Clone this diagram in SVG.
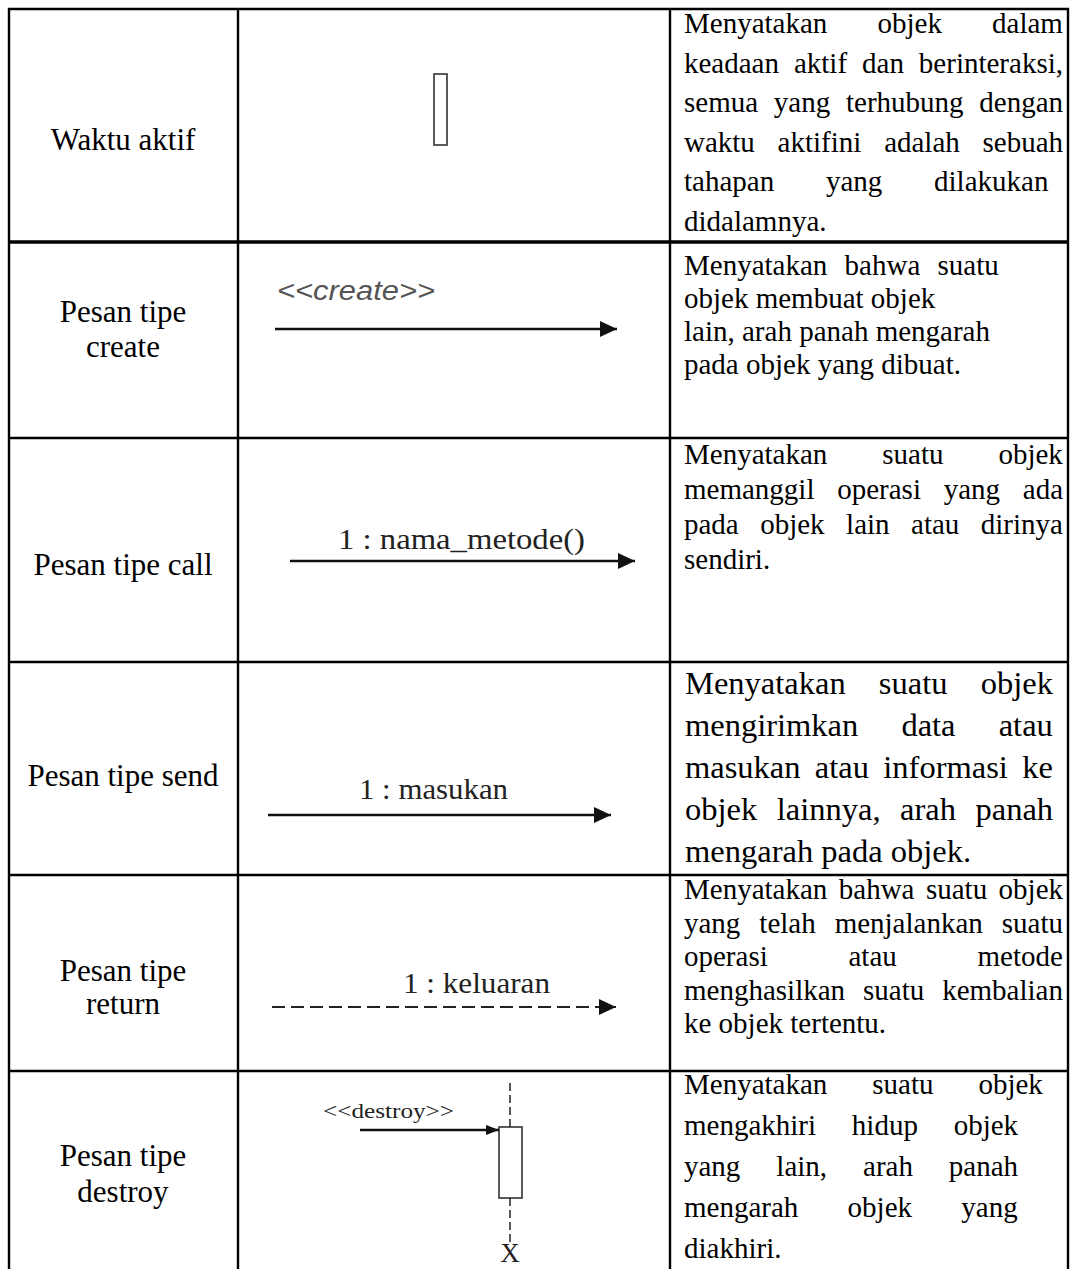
<svg xmlns="http://www.w3.org/2000/svg" width="1073" height="1269" viewBox="0 0 1073 1269">
<defs>
<style>
.grid{stroke:#000;stroke-width:2.4;fill:none}
.lbl{font-family:"Liberation Serif","Times New Roman",serif;font-size:31px;fill:#000;text-anchor:middle}
.desc{font-family:"Liberation Serif","Times New Roman",serif;font-size:29px;fill:#000}
.big{font-size:32.5px}
.note{font-family:"Liberation Serif","Times New Roman",serif;font-size:29px;fill:#222}
.stereo{font-family:"Liberation Sans",Arial,sans-serif;font-style:italic;font-size:27px;fill:#555}
.msg{stroke:#111;stroke-width:2.5;fill:none}
.ret{stroke:#222;stroke-width:2;fill:none;stroke-dasharray:13 6}
.life{stroke:#222;stroke-width:1.5;fill:none;stroke-dasharray:8 4}
.box{stroke:#333;stroke-width:1.6;fill:#fff}
</style>
<marker id="ah" viewBox="0 0 17 16" refX="17" refY="8" markerWidth="17" markerHeight="16" markerUnits="userSpaceOnUse" orient="auto"><path d="M0,0 L17,8 L0,16 Z" fill="#111"/></marker>
<marker id="ahs" viewBox="0 0 13 10" refX="13" refY="5" markerWidth="13" markerHeight="10" markerUnits="userSpaceOnUse" orient="auto"><path d="M0,0 L13,5 L0,10 Z" fill="#111"/></marker>
</defs>
<rect width="1073" height="1269" fill="#fff"/>

<g id="table">
<path class="grid" d="M9,1269 V9 H1068 V1269 M238,9 V1269 M670,9 V1269 M9,438 H1068 M9,662 H1068 M9,875 H1068 M9,1071 H1068"/>
<path d="M9,242 H1068" stroke="#000" stroke-width="3.4"/>
</g>

<g id="row-waktu-aktif">
<text class="lbl" x="123" y="150">Waktu aktif</text>
<rect class="box" x="434" y="74" width="13" height="71"/>
<text class="desc" x="684" y="33" style="word-spacing:42.9px">Menyatakan objek dalam</text>
<text class="desc" x="684" y="72.5" style="word-spacing:7.7px">keadaan aktif dan berinteraksi,</text>
<text class="desc" x="684" y="112" style="word-spacing:8.5px">semua yang terhubung dengan</text>
<text class="desc" x="684" y="151.5" style="word-spacing:15.5px">waktu aktifini adalah sebuah</text>
<text class="desc" x="684" y="191" style="word-spacing:44.5px">tahapan yang dilakukan</text>
<text class="desc" x="684" y="230.5">didalamnya.</text>
</g>

<g id="row-create">
<text class="lbl" x="123" y="322">Pesan tipe</text>
<text class="lbl" x="123" y="357">create</text>
<text class="stereo" x="277" y="300" textLength="158" lengthAdjust="spacingAndGlyphs">&lt;&lt;create&gt;&gt;</text>
<text class="desc" x="684" y="275" style="word-spacing:10px">Menyatakan bahwa suatu</text>
<text class="desc" x="684" y="308">objek membuat objek</text>
<text class="desc" x="684" y="341">lain, arah panah mengarah</text>
<text class="desc" x="684" y="374">pada objek yang dibuat.</text>
</g>

<g id="row-call">
<text class="lbl" x="123" y="575">Pesan tipe call</text>
<text class="note" x="338" y="549" textLength="247" lengthAdjust="spacingAndGlyphs">1 : nama_metode()</text>
<text class="desc" x="684" y="464" style="word-spacing:47.7px">Menyatakan suatu objek</text>
<text class="desc" x="684" y="499" style="word-spacing:15.5px">memanggil operasi yang ada</text>
<text class="desc" x="684" y="534" style="word-spacing:14.2px">pada objek lain atau dirinya</text>
<text class="desc" x="684" y="569">sendiri.</text>
</g>

<g id="row-send">
<text class="lbl" x="123" y="786">Pesan tipe send</text>
<text class="note" x="359" y="799" textLength="149" lengthAdjust="spacingAndGlyphs">1 : masukan</text>
<text class="desc big" x="685" y="694" style="word-spacing:25.1px">Menyatakan suatu objek</text>
<text class="desc big" x="685" y="736" style="word-spacing:35px">mengirimkan data atau</text>
<text class="desc big" x="685" y="778" style="word-spacing:6.2px">masukan atau informasi ke</text>
<text class="desc big" x="685" y="820" style="word-spacing:11.4px">objek lainnya, arah panah</text>
<text class="desc big" x="685" y="862">mengarah pada objek.</text>
</g>

<g id="row-return">
<text class="lbl" x="123" y="981">Pesan tipe</text>
<text class="lbl" x="123" y="1014">return</text>
<text class="note" x="403" y="993" textLength="147" lengthAdjust="spacingAndGlyphs">1 : keluaran</text>
<text class="desc" x="684" y="899" style="word-spacing:4.2px">Menyatakan bahwa suatu objek</text>
<text class="desc" x="684" y="932.5" style="word-spacing:11.7px">yang telah menjalankan suatu</text>
<text class="desc" x="684" y="966" style="word-spacing:73.5px">operasi atau metode</text>
<text class="desc" x="684" y="999.5" style="word-spacing:10.7px">menghasilkan suatu kembalian</text>
<text class="desc" x="684" y="1033">ke objek tertentu.</text>
</g>

<g id="row-destroy">
<text class="lbl" x="123" y="1166">Pesan tipe</text>
<text class="lbl" x="123" y="1202">destroy</text>
<text class="note" x="323" y="1118" style="font-size:22px" textLength="131" lengthAdjust="spacingAndGlyphs">&lt;&lt;destroy&gt;&gt;</text>
<rect class="box" x="499" y="1127" width="23" height="71"/>
<text class="note" x="510" y="1262" style="font-size:27px;text-anchor:middle">X</text>
<text class="desc" x="684" y="1094" style="word-spacing:37.7px">Menyatakan suatu objek</text>
<text class="desc" x="684" y="1135" style="word-spacing:28.5px">mengakhiri hidup objek</text>
<text class="desc" x="684" y="1176" style="word-spacing:28.7px">yang lain, arah panah</text>
<text class="desc" x="684" y="1217" style="word-spacing:42px">mengarah objek yang</text>
<text class="desc" x="684" y="1258">diakhiri.</text>
</g>

<g id="connectors">
<line class="msg" x1="275" y1="329" x2="617" y2="329" marker-end="url(#ah)"/>
<line class="msg" x1="290" y1="561" x2="635" y2="561" marker-end="url(#ah)"/>
<line class="msg" x1="268" y1="815" x2="611" y2="815" marker-end="url(#ah)"/>
<line class="ret" x1="272" y1="1007" x2="616" y2="1007" marker-end="url(#ah)"/>
<line class="msg" x1="360" y1="1130" x2="499" y2="1130" stroke-width="1.6" marker-end="url(#ahs)"/>
<line class="life" x1="510" y1="1083" x2="510" y2="1127"/>
<line class="life" x1="510" y1="1198" x2="510" y2="1242"/>
</g>
</svg>
